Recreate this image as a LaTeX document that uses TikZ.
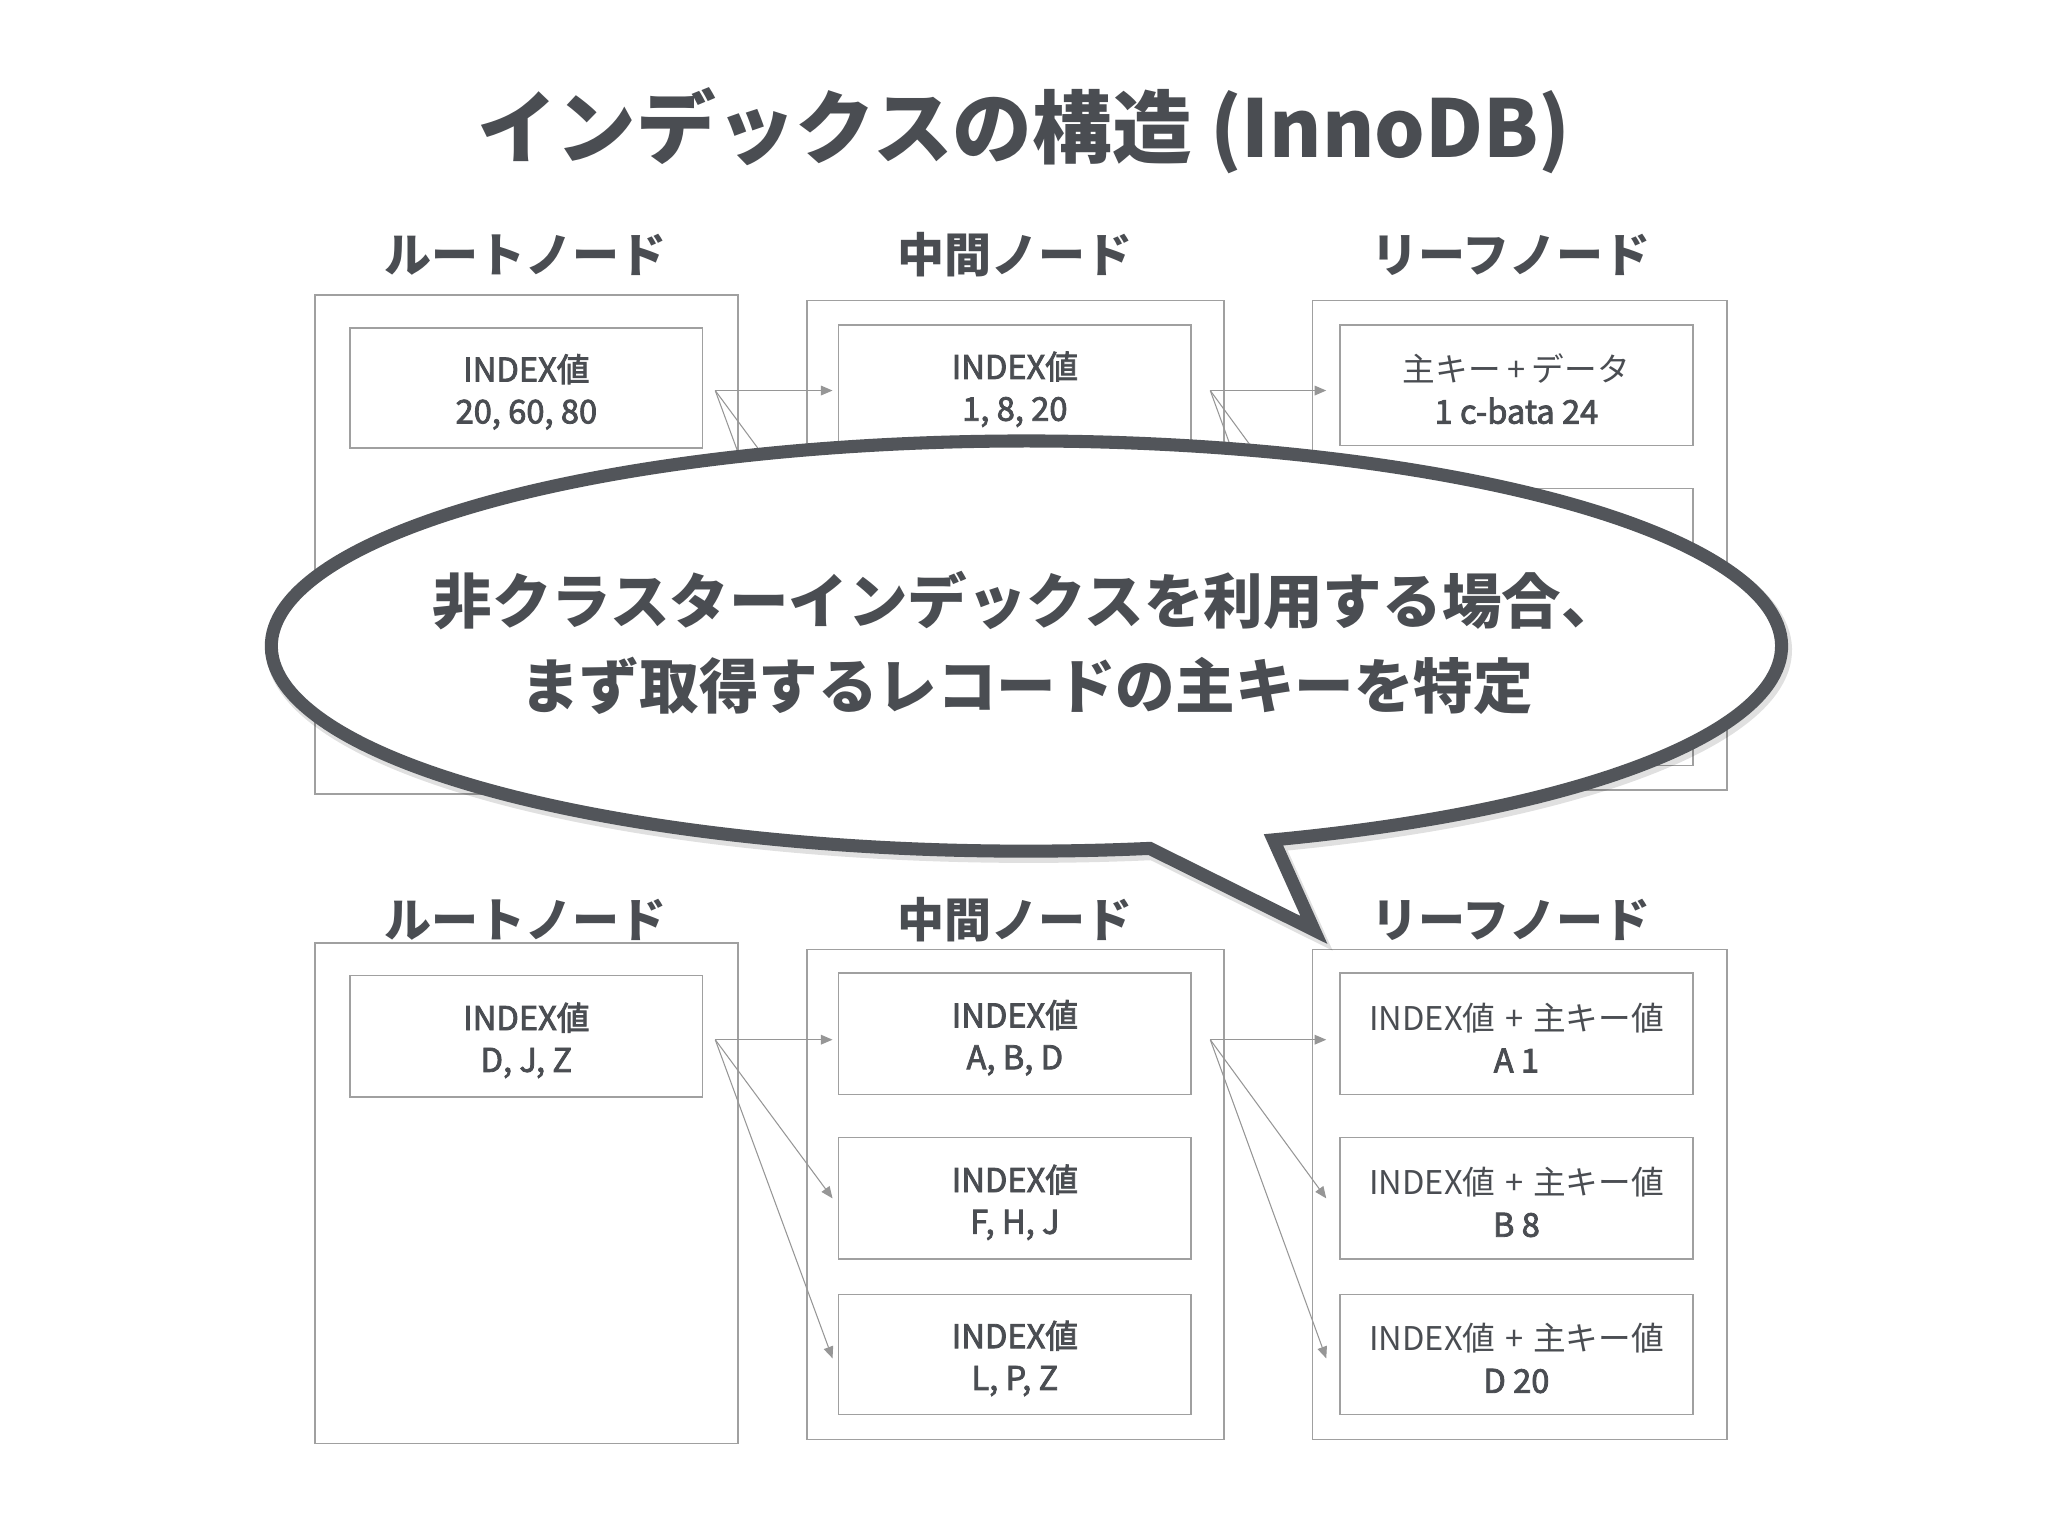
\documentclass[tikz,border=0pt]{standalone}
\usepackage{fontspec}
\setmainfont{Noto Sans CJK JP}
\newfontfamily\jpm{Noto Sans CJK JP}[FakeBold=2.5]
\usetikzlibrary{arrows.meta}
\definecolor{txt}{RGB}{74,77,82}
\definecolor{boxc}{RGB}{160,160,160}
\definecolor{arrc}{RGB}{150,150,150}
\definecolor{bub}{RGB}{82,85,90}
\newcommand\btx[2]{\rule{0pt}{27pt}#1\\#2}
\newcommand\pk{{\normalfont INDEX値\hspace{0.3em}+\hspace{0.3em}主キー値}}
\tikzset{
  obox/.style={draw=boxc,line width=1.2pt,inner sep=0pt,minimum width=#1},
  ibox/.style={draw=boxc,line width=1.2pt,inner sep=0pt,minimum width=270,minimum height=92,
     align=center,text=txt,font=\jpm\fontsize{25}{32}\selectfont},
  lbl/.style={text=txt,font=\bfseries\fontsize{36}{40}\selectfont,inner sep=0pt},
  arr/.style={draw=arrc,line width=0.8pt,-{Triangle[length=9,width=7.5]}},
  bubble/.style={draw=bub,fill=white,line width=10pt,line join=miter,miter limit=20},
}
\begin{document}
\begin{tikzpicture}[x=1pt,y=-1pt]
\useasboundingbox[fill=white] (0,0) rectangle (1568,1176);

% title
\node[text=txt,font=\bfseries\fontsize{61}{70}\selectfont,inner sep=0pt] (title) at (784,100) {インデックスの構造 (InnoDB)};

% ---------- top section ----------
\node[lbl] (tlR) at (402,195) {ルートノード};
\node[lbl] (tlM) at (777,195) {中間ノード};
\node[lbl] (tlL) at (1157,195) {リーフノード};

\node[obox=324,minimum height=382] (tRo) at (403,417) {};
\node[ibox] (tRi) at (403,297) {\btx{INDEX値}{20, 60, 80}};

\node[obox=319,minimum height=375] (tMo) at (777.5,417.5) {};
\node[ibox] (tMi1) at (777,295) {\btx{INDEX値}{1, 8, 20}};
\node[ibox,minimum height=93] (tMi2) at (777,420.5) {};
\node[ibox] (tMi3) at (777,540) {};

\node[obox=317,minimum height=375] (tLo) at (1163.5,417.5) {};
\node[ibox] (tLi1) at (1161,295) {\btx{{\normalfont 主キー\hspace{0.2em}+\hspace{0.2em}データ}}{1 c-bata 24}};
\node[ibox,minimum height=93] (tLi2) at (1161,420.5) {};
\node[ibox] (tLi3) at (1161,540) {};

\coordinate (tRs) at ([xshift=9,yshift=-2]tRi.east);
\coordinate (tMs) at ([xshift=14,yshift=-4]tMi1.east);
\draw[arr] (tRs) -- ([xshift=-4]tMi1.west |- tRs);
\draw[arr] (tRs) -- ([xshift=-4]tMi2.west);
\draw[arr] (tRs) -- ([xshift=-4,yshift=-3]tMi3.west);
\draw[arr] (tMs) -- ([xshift=-10]tLi1.west |- tMs);
\draw[arr] (tMs) -- ([xshift=-10]tLi2.west);
\draw[arr] (tMs) -- ([xshift=-10,yshift=-3]tLi3.west);

% ---------- bottom section ----------
\node[lbl] (blR) at (402,704) {ルートノード};
\node[lbl] (blM) at (777,704) {中間ノード};
\node[lbl] (blL) at (1157,704) {リーフノード};

\node[obox=324,minimum height=383] (bRo) at (403,913.5) {};
\node[ibox,minimum height=93] (bRi) at (403,793.5) {\btx{INDEX値}{D, J, Z}};

\node[obox=319,minimum height=375] (bMo) at (777.5,914.5) {};
\node[ibox,minimum height=93] (bMi1) at (777,791.5) {\btx{INDEX値}{A, B, D}};
\node[ibox,minimum height=93] (bMi2) at (777,917.5) {\btx{INDEX値}{F, H, J}};
\node[ibox,minimum height=92] (bMi3) at (777,1037) {\btx{INDEX値}{L, P, Z}};

\node[obox=317,minimum height=375] (bLo) at (1163.5,914.5) {};
\node[ibox,minimum height=93] (bLi1) at (1161,791.5) {\btx{\pk}{A 1}};
\node[ibox,minimum height=93] (bLi2) at (1161,917.5) {\btx{\pk}{B 8}};
\node[ibox,minimum height=92] (bLi3) at (1161,1037) {\btx{\pk}{D 20}};

\coordinate (bRs) at ([xshift=9,yshift=-2.5]bRi.east);
\coordinate (bMs) at ([xshift=14,yshift=-4.5]bMi1.east);
\draw[arr] (bRs) -- ([xshift=-4]bMi1.west |- bRs);
\draw[arr] (bRs) -- ([xshift=-4]bMi2.west);
\draw[arr] (bRs) -- ([xshift=-4,yshift=-3]bMi3.west);
\draw[arr] (bMs) -- ([xshift=-10]bLi1.west |- bMs);
\draw[arr] (bMs) -- ([xshift=-10]bLi2.west);
\draw[arr] (bMs) -- ([xshift=-10,yshift=-3]bLi3.west);

% ---------- speech bubble ----------
\begin{scope}[shift={(2,3)}]
\draw[draw=black,opacity=0.12,line width=12pt,line join=miter,miter limit=20]
  (975,643) arc[start angle=70.9,end angle=-279.4,x radius=578,y radius=157] -- (1006,712) -- cycle;
\end{scope}
\draw[bubble] (975,643) arc[start angle=70.9,end angle=-279.4,x radius=578,y radius=157] -- (1006,712) -- cycle;
\node[text=txt,font=\bfseries\fontsize{45.6}{65}\selectfont,align=center,inner sep=0pt] (btxt) at (786,492)
  {非クラスターインデックスを利用する場合、\\まず取得するレコードの主キーを特定};
\end{tikzpicture}
\end{document}
